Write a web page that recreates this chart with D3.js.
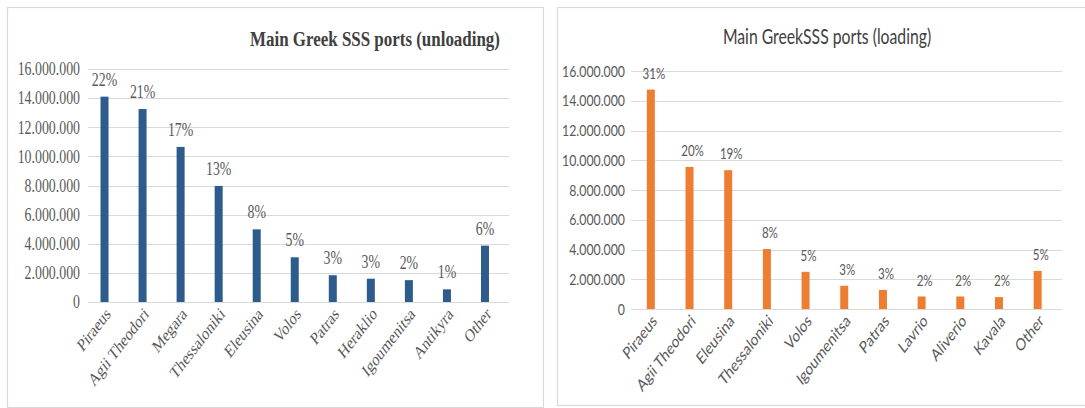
<!DOCTYPE html>
<html>
<head>
<meta charset="utf-8">
<script src="https://cdn.jsdelivr.net/npm/d3@7"></script>
<style>
  html, body { margin: 0; padding: 0; background: #ffffff; }
  svg { display: block; }
</style>
</head>
<body>
<svg id="chart" width="1085" height="408"></svg>
<script>
// Unloading (left panel)
const unloadPorts = ["Piraeus", "Agii Theodori", "Megara", "Thessaloniki", "Eleusina", "Volos", "Patras", "Heraklio", "Igoumenitsa", "Antikyra", "Other"];
const unloadTonnes = [14100000, 13250000, 10650000, 7970000, 4990000, 3070000, 1840000, 1600000, 1500000, 870000, 3870000];
const unloadShare = ["22%", "21%", "17%", "13%", "8%", "5%", "3%", "3%", "2%", "1%", "6%"];

// Loading (right panel)
const loadPorts = ["Piraeus", "Agii Theodori", "Eleusina", "Thessaloniki", "Volos", "Igoumenitsa", "Patras", "Lavrio", "Aliverio", "Kavala", "Other"];
const loadTonnes = [14750000, 9550000, 9330000, 4030000, 2500000, 1560000, 1280000, 840000, 840000, 800000, 2560000];
const loadShare = ["31%", "20%", "19%", "8%", "5%", "3%", "3%", "2%", "2%", "2%", "5%"];

const yTicks = [0, 2000000, 4000000, 6000000, 8000000, 10000000, 12000000, 14000000, 16000000];

const svg = d3.select("#chart");

// Thousands separated with dots: 16.000.000
const fmt = d3.formatLocale({ decimal: ",", thousands: ".", grouping: [3], currency: ["", ""] }).format(",");

function drawPanel(cfg) {
  const S = cfg.squeeze; // narrow, tall lettering
  const g = svg.append("g");

  g.append("rect")
    .attr("x", cfg.box[0] + 0.5).attr("y", cfg.box[1] + 0.5)
    .attr("width", cfg.box[2]).attr("height", cfg.box[3])
    .attr("fill", "#fff").attr("stroke", "#d9d9d9").attr("stroke-width", 1.2);

  g.append("text")
    .attr("transform", `translate(${cfg.titleX},${cfg.titleY}) scale(${cfg.titleSqueeze},1)`)
    .attr("text-anchor", "middle")
    .attr("font-family", cfg.titleFont)
    .attr("font-weight", cfg.titleWeight)
    .attr("font-size", cfg.titleSize)
    .attr("fill", "#404040")
    .text(cfg.title);

  const x = d3.scaleBand().domain(cfg.cats).range(cfg.xRange).paddingInner(0).paddingOuter(0);
  const y = d3.scaleLinear().domain([0, 16000000]).range(cfg.yRange);

  // horizontal gridlines
  g.append("g").selectAll("line").data(yTicks).join("line")
    .attr("x1", cfg.gridX[0]).attr("x2", cfg.gridX[1])
    .attr("y1", d => Math.round(y(d)) + 0.5).attr("y2", d => Math.round(y(d)) + 0.5)
    .attr("stroke", "#d9d9d9").attr("stroke-width", 1);

  // y axis labels
  const yAxis = d3.axisLeft(y).tickValues(yTicks).tickFormat(fmt).tickSize(0).tickPadding(0);
  const ya = g.append("g").attr("transform", `translate(${cfg.yLabelX},0)`).call(yAxis);
  ya.select(".domain").remove();
  ya.selectAll("text")
    .attr("x", 0)
    .attr("transform", `scale(${S},1)`)
    .attr("font-family", cfg.font).attr("font-size", cfg.tickSize).attr("fill", "#595959");

  // bars
  g.append("g").selectAll("rect").data(cfg.values).join("rect")
    .attr("x", (d, i) => x(cfg.cats[i]) + x.bandwidth() / 2 - cfg.barW / 2)
    .attr("width", cfg.barW)
    .attr("y", d => y(d))
    .attr("height", d => y(0) - y(d))
    .attr("fill", cfg.color);

  // share labels
  g.append("g").selectAll("text").data(cfg.values).join("text")
    .attr("transform", (d, i) => `translate(${x(cfg.cats[i]) + x.bandwidth() / 2 + cfg.pctShift},${y(d) - cfg.pctGap}) scale(${S},1)`)
    .attr("text-anchor", "middle")
    .attr("font-family", cfg.font).attr("font-size", cfg.pctSize).attr("fill", "#595959")
    .text((d, i) => cfg.shares[i]);

  // category labels, slanted
  const xAxis = d3.axisBottom(x).tickSize(0).tickPadding(0);
  const xa = g.append("g").attr("transform", `translate(0,${cfg.yRange[0]})`).call(xAxis);
  xa.select(".domain").remove();
  xa.selectAll("text")
    .attr("font-family", cfg.font).attr("font-size", cfg.catSize).attr("fill", "#595959")
    .attr("text-anchor", "end")
    .attr("dy", null).attr("y", 0).attr("x", 0)
    .attr("transform", `translate(${cfg.catDx},${cfg.catDy}) scale(${S},1) rotate(-45)`);
}

drawPanel({
  box: [7, 7, 536, 400],
  title: "Main Greek SSS ports (unloading)",
  titleX: 375, titleY: 46, titleFont: "Liberation Serif", titleWeight: "bold", titleSize: 22, titleSqueeze: 0.77,
  font: "Liberation Serif", tickSize: 18, pctSize: 18, catSize: 18, squeeze: 0.77,
  cats: unloadPorts, values: unloadTonnes, shares: unloadShare,
  xRange: [85.5, 504], yRange: [302, 69], gridX: [88, 509], yLabelX: 80,
  barW: 8, color: "#2d5b8c", pctShift: 0, pctGap: 11, catDx: 7, catDy: 13
});

drawPanel({
  box: [557, 7, 540, 398],
  title: "Main GreekSSS ports (loading)",
  titleX: 827, titleY: 44, titleFont: "Lato", titleWeight: "normal", titleSize: 21, titleSqueeze: 0.75,
  font: "Lato", tickSize: 16, pctSize: 15, catSize: 17, squeeze: 0.77,
  cats: loadPorts, values: loadTonnes, shares: loadShare,
  xRange: [631.5, 1057], yRange: [309, 71], gridX: [631, 1062], yLabelX: 625,
  barW: 8, color: "#ed7d31", pctShift: 3, pctGap: 11, catDx: 7, catDy: 13
});
</script>
</body>
</html>
